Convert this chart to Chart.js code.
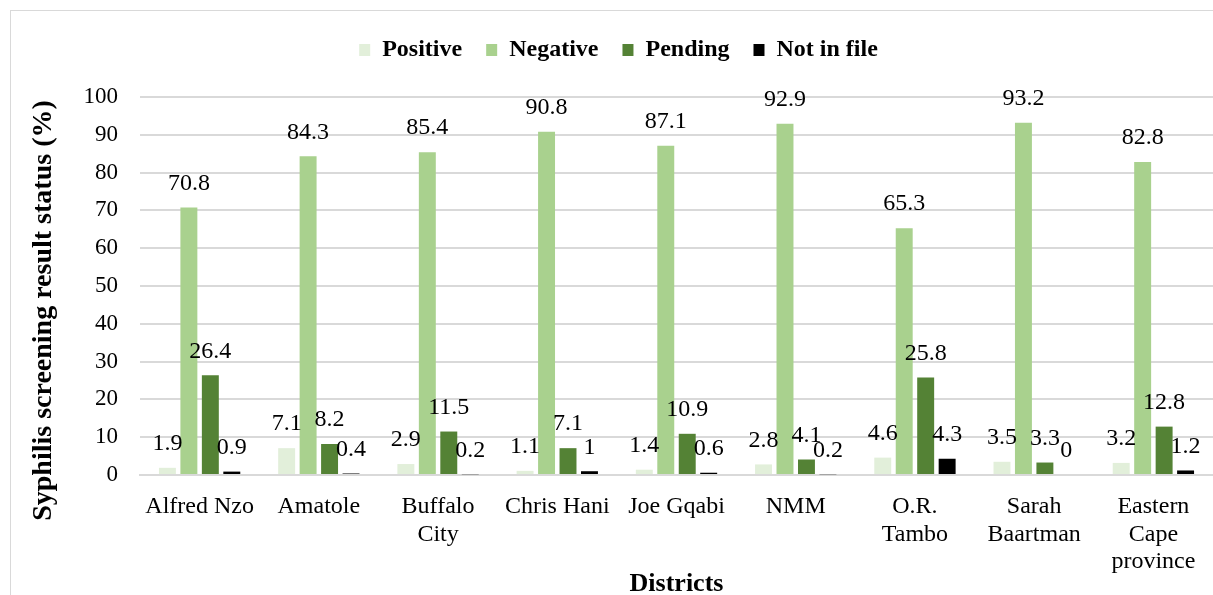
<!DOCTYPE html>
<html>
<head>
<meta charset="utf-8">
<script src="https://cdn.jsdelivr.net/npm/chart.js@4"></script>
<style>
  html, body { margin: 0; padding: 0; background: #fff; overflow: hidden; }
  #frame { position: absolute; left: 10px; top: 10px; width: 1230px; height: 620px; border: 1px solid #d9d9d9; }
  #wrap { position: absolute; left: 0; top: 0; width: 1213px; height: 595px; }
</style>
</head>
<body>
<div id="frame"></div>
<div id="wrap"><canvas id="chart"></canvas></div>
<script>
// Districts (x axis categories)
const districts = [
    'Alfred Nzo', 'Amatole', ['Buffalo', 'City'], 'Chris Hani', 'Joe Gqabi',
    'NMM', ['O.R.', 'Tambo'], ['Sarah', 'Baartman'], ['Eastern', 'Cape', 'province']
];

// Syphilis screening result status (%)
const positive  = [1.9, 7.1, 2.9, 1.1, 1.4, 2.8, 4.6, 3.5, 3.2];
const negative  = [70.8, 84.3, 85.4, 90.8, 87.1, 92.9, 65.3, 93.2, 82.8];
const pending   = [26.4, 8.2, 11.5, 7.1, 10.9, 4.1, 25.8, 3.3, 12.8];
const notInFile = [0.9, 0.4, 0.2, 1, 0.6, 0.2, 4.3, 0, 1.2];

const yTicks = [0, 10, 20, 30, 40, 50, 60, 70, 80, 90, 100];

const serif = "'Liberation Serif', 'Times New Roman', serif";

// labels drawn above each bar, like Excel
const barLabels = {
    id: 'barLabels',
    afterDatasetsDraw(chart) {
        const ctx = chart.ctx;
        ctx.save();
        ctx.font = '24px ' + serif;
        ctx.fillStyle = '#000';
        ctx.textAlign = 'center';
        ctx.textBaseline = 'middle';
        chart.data.datasets.forEach((ds, i) => {
            chart.getDatasetMeta(i).data.forEach((bar, j) => {
                ctx.fillText(String(ds.data[j]), bar.x, bar.y - 24);
            });
        });
        ctx.restore();
    }
};

// leave room under the legend (Excel puts the plot lower) and nudge it right
const legendGap = {
    id: 'legendGap',
    beforeInit(chart) {
        const fit = chart.legend.fit;
        chart.legend.fit = function () {
            fit.call(this);
            this.height = 83;
        };
    },
    afterLayout(chart) {
        chart.legend.left += 12;
        chart.legend.right += 12;
    }
};

new Chart(document.getElementById('chart'), {
    type: 'bar',
    data: {
        labels: districts,
        datasets: [
            { label: 'Positive', data: positive, backgroundColor: '#e2efda' },
            { label: 'Negative', data: negative, backgroundColor: '#a9d18e' },
            { label: 'Pending', data: pending, backgroundColor: '#548235' },
            { label: 'Not in file', data: notInFile, backgroundColor: '#000000' }
        ]
    },
    options: {
        responsive: true,
        maintainAspectRatio: false,
        animation: false,
        categoryPercentage: 0.72,
        barPercentage: 0.79,
        layout: { padding: { left: 0, top: 14, right: 0, bottom: 0 } },
        plugins: {
            tooltip: { enabled: false },
            legend: {
                position: 'top',
                labels: {
                    boxWidth: 11,
                    boxHeight: 12,
                    padding: 24,
                    color: '#000',
                    font: { family: serif, size: 24, weight: 'bold' }
                }
            }
        },
        scales: {
            x: {
                grid: { display: false },
                border: { color: '#d9d9d9', width: 2 },
                ticks: {
                    color: '#000',
                    padding: 10,
                    maxRotation: 0,
                    autoSkip: false,
                    font: { family: serif, size: 24, lineHeight: 1.15 }
                },
                title: {
                    display: true,
                    text: 'Districts',
                    color: '#000',
                    padding: 0,
                    font: { family: serif, size: 26, weight: 'bold', lineHeight: 0.8 }
                },
                afterFit(scale) { scale.height = 120; }
            },
            y: {
                min: 0,
                max: 100,
                afterBuildTicks(scale) { scale.ticks = yTicks.map(v => ({ value: v })); },
                grid: { color: '#d9d9d9', lineWidth: 2, drawTicks: false },
                border: { display: false },
                ticks: {
                    color: '#000',
                    padding: 22,
                    font: { family: serif, size: 23 }
                },
                title: {
                    display: true,
                    // trailing spaces push the title down, as in the original
                    text: 'Syphilis screening result status (%)       ',
                    color: '#000',
                    padding: { top: 27, bottom: 0 },
                    font: { family: serif, size: 28, weight: 'bold' }
                },
                afterFit(scale) { scale.width = 140; }
            }
        }
    },
    plugins: [barLabels, legendGap]
});
</script>
</body>
</html>
